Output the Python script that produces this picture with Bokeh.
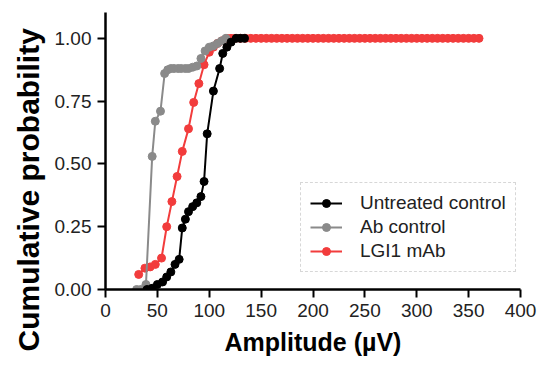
import math
from bokeh.plotting import figure
from bokeh.models import (Range1d, Title, Legend, LegendItem, FixedTicker,
                          PrintfTickFormatter)
from bokeh.embed import file_html
from bokeh.resources import INLINE

# ---- data ----
black_x = [40, 45, 50, 55, 59, 63, 67, 71, 74, 77, 80, 84, 88, 92, 95, 98, 104, 110, 113, 117, 121, 126, 130, 134]
black_y = [0.0, 0.005, 0.02, 0.03, 0.05, 0.07, 0.10, 0.12, 0.245, 0.28, 0.31, 0.33, 0.345, 0.37, 0.43, 0.62, 0.79, 0.88, 0.94, 0.965, 0.985, 1.0, 1.0, 1.0]

gray_x = [30, 34, 39, 45, 48, 53, 57, 60, 63, 66, 70, 73, 77, 80, 84, 88, 92, 96, 100, 104, 108, 112, 116]
gray_y = [0.0, 0.0, 0.02, 0.53, 0.67, 0.71, 0.86, 0.875, 0.88, 0.88, 0.88, 0.88, 0.88, 0.88, 0.885, 0.89, 0.92, 0.95, 0.965, 0.97, 0.98, 0.99, 1.0]

red_x = [32, 38, 43, 48, 54, 59, 64, 69, 74, 80, 85, 90, 95, 100, 104, 108, 112, 117,
         121, 125, 130, 135, 140, 145, 150, 155, 160, 165, 170, 175, 180, 185, 190, 195,
         200, 205, 210, 215, 220, 225, 230, 235, 240, 245, 250, 255, 260, 265, 270, 275,
         280, 285, 290, 295, 300, 305, 310, 315, 320, 325, 330, 335, 340, 345, 350, 355, 360]
red_y = [0.06, 0.085, 0.09, 0.10, 0.125, 0.25, 0.35, 0.45, 0.55, 0.64, 0.745, 0.82, 0.895, 0.945, 0.965, 0.98, 0.99, 1.0,
         1.0, 1.0, 1.0, 1.0, 1.0, 1.0, 1.0, 1.0, 1.0, 1.0, 1.0, 1.0, 1.0, 1.0, 1.0, 1.0,
         1.0, 1.0, 1.0, 1.0, 1.0, 1.0, 1.0, 1.0, 1.0, 1.0, 1.0, 1.0, 1.0, 1.0, 1.0, 1.0,
         1.0, 1.0, 1.0, 1.0, 1.0, 1.0, 1.0, 1.0, 1.0, 1.0, 1.0, 1.0, 1.0, 1.0, 1.0, 1.0, 1.0]

series_names = ["Untreated control", "Ab control", "LGI1 mAb"]
x_ticks = [0, 50, 100, 150, 200, 250, 300, 350, 400]
y_ticks = [0.0, 0.25, 0.50, 0.75, 1.00]

FONT = "Liberation Sans"
BLACK = "#000000"
GRAY = "#8a8a8a"
RED = "#f23c3c"

p = figure(width=540, height=358, output_backend="svg", toolbar_location=None,
           x_range=Range1d(0, 400), y_range=Range1d(0, 1.103),
           min_border_left=105, min_border_right=20, min_border_top=12, min_border_bottom=68)
p.grid.visible = False
p.outline_line_color = None
p.background_fill_color = "white"

for ax in (p.xaxis[0], p.yaxis[0]):
    ax.axis_line_width = 2.5
    ax.axis_line_color = "black"
    ax.major_tick_line_width = 2
    ax.major_tick_line_color = "black"
    ax.major_tick_out = 8
    ax.major_tick_in = 0
    ax.minor_tick_line_color = None
    ax.major_label_text_font = FONT
    ax.major_label_text_font_size = "19px"
    ax.major_label_text_color = "#222222"

p.xaxis.ticker = FixedTicker(ticks=x_ticks)
p.yaxis.ticker = FixedTicker(ticks=y_ticks)
p.yaxis.formatter = PrintfTickFormatter(format="%.2f")
p.xaxis.major_label_standoff = 6
p.yaxis.major_label_standoff = 6

p.xaxis.axis_label = "Amplitude (µV)"
p.xaxis.axis_label_text_font = FONT
p.xaxis.axis_label_text_font_size = "25px"
p.xaxis.axis_label_text_font_style = "bold"
p.xaxis.axis_label_text_color = "black"
p.xaxis.axis_label_standoff = 8

ytitle = Title(text="Cumulative probability", align="left", offset=-62,
               text_font=FONT, text_font_size="30px", text_font_style="bold",
               text_color="black", standoff=14)
p.add_layout(ytitle, "left")

rl = p.line(red_x, red_y, line_color=RED, line_width=2)
rs = p.scatter(red_x, red_y, marker="circle", size=8, fill_color=RED, line_color=RED)
gl = p.line(gray_x, gray_y, line_color=GRAY, line_width=2)
gs = p.scatter(gray_x, gray_y, marker="circle", size=8, fill_color=GRAY, line_color=GRAY)
bl = p.line(black_x, black_y, line_color=BLACK, line_width=2)
bs = p.scatter(black_x, black_y, marker="circle", size=8, fill_color=BLACK, line_color=BLACK)

legend = Legend(items=[
    LegendItem(label=series_names[0], renderers=[bl, bs]),
    LegendItem(label=series_names[1], renderers=[gl, gs]),
    LegendItem(label=series_names[2], renderers=[rl, rs]),
], location=(195, 17))
legend.label_text_font = FONT
legend.label_text_font_size = "19px"
legend.label_text_color = "#222222"
legend.glyph_width = 32
legend.glyph_height = 20
legend.label_height = 20
legend.label_standoff = 18
legend.spacing = 2
legend.padding = 9
legend.margin = 0
legend.border_line_color = "#b0b0b0"
legend.border_line_dash = "3 2"
legend.border_line_width = 1
legend.background_fill_alpha = 1.0
p.add_layout(legend)

open("out.html", "w").write(file_html(p, INLINE))
